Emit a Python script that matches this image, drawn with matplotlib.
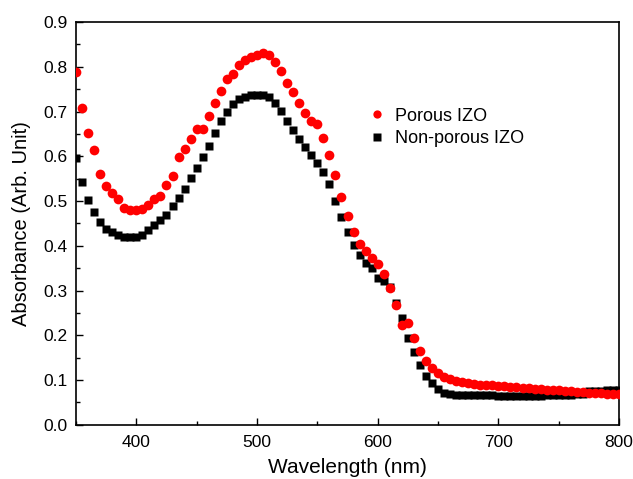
import numpy as np
import matplotlib
matplotlib.use("Agg")
import matplotlib.pyplot as plt
from matplotlib.ticker import MultipleLocator, FormatStrFormatter

# wavelength grid, 5 nm steps
wavelength = np.arange(350, 801, 5)

porous = [
    0.789, 0.709, 0.651, 0.613, 0.560, 0.533, 0.518, 0.504, 0.485, 0.480,
    0.480, 0.482, 0.491, 0.504, 0.511, 0.537, 0.555, 0.598, 0.616, 0.638,
    0.660, 0.662, 0.691, 0.718, 0.747, 0.773, 0.784, 0.804, 0.815, 0.822,
    0.826, 0.830, 0.826, 0.811, 0.791, 0.764, 0.744, 0.720, 0.696, 0.678,
    0.673, 0.642, 0.602, 0.558, 0.509, 0.467, 0.431, 0.404, 0.389, 0.373,
    0.360, 0.336, 0.306, 0.267, 0.224, 0.228, 0.193, 0.164, 0.142, 0.126,
    0.115, 0.108, 0.103, 0.099, 0.096, 0.094, 0.092, 0.090, 0.089, 0.088,
    0.087, 0.086, 0.085, 0.084, 0.083, 0.082, 0.081, 0.080, 0.079, 0.078,
    0.077, 0.076, 0.075, 0.074, 0.073, 0.072, 0.071, 0.071, 0.070, 0.070,
    0.069,
]
non_porous = [
    0.596, 0.542, 0.502, 0.476, 0.453, 0.437, 0.432, 0.425, 0.420, 0.420,
    0.420, 0.425, 0.435, 0.447, 0.458, 0.470, 0.489, 0.507, 0.527, 0.551,
    0.574, 0.598, 0.624, 0.651, 0.678, 0.700, 0.716, 0.729, 0.733, 0.738,
    0.738, 0.738, 0.733, 0.718, 0.702, 0.680, 0.658, 0.638, 0.620, 0.604,
    0.584, 0.564, 0.538, 0.500, 0.465, 0.431, 0.402, 0.380, 0.362, 0.351,
    0.329, 0.322, 0.307, 0.273, 0.238, 0.193, 0.162, 0.133, 0.109, 0.093,
    0.080, 0.072, 0.068, 0.067, 0.066, 0.066, 0.066, 0.066, 0.066, 0.066,
    0.065, 0.065, 0.065, 0.065, 0.065, 0.065, 0.065, 0.065, 0.066, 0.066,
    0.066, 0.066, 0.067, 0.068, 0.070, 0.075, 0.076, 0.076, 0.077, 0.077,
    0.077,
]

plt.rcParams["font.family"] = ["Liberation Sans", "DejaVu Sans"]

fig = plt.figure(figsize=(6.33, 4.79), dpi=100)
ax = fig.add_axes([0.120, 0.113, 0.858, 0.841])

ax.plot(wavelength, non_porous, "s", color="black", ms=6, mec="none",
        label="Non-porous IZO", zorder=2)
ax.plot(wavelength, porous, "o", color="#ff0000", ms=7, mec="none",
        label="Porous IZO", zorder=3)

ax.set_xlim(350, 800)
ax.set_ylim(0, 0.9)
ax.xaxis.set_major_locator(MultipleLocator(100))
ax.xaxis.set_minor_locator(MultipleLocator(50))
ax.yaxis.set_major_locator(MultipleLocator(0.1))
ax.yaxis.set_minor_locator(MultipleLocator(0.05))
ax.yaxis.set_major_formatter(FormatStrFormatter("%.1f"))
ax.tick_params(which="both", direction="in", top=False, right=False,
               labelsize=12.5, width=1)
ax.tick_params(which="major", length=5)
ax.tick_params(which="minor", length=3)
ax.tick_params(axis="x", which="major", pad=7)
ax.tick_params(axis="y", which="major", pad=6)
for s in ax.spines.values():
    s.set_linewidth(1.2)

ax.set_xlabel("Wavelength (nm)", fontsize=15, labelpad=6)
ax.set_ylabel("Absorbance (Arb. Unit)", fontsize=14.5, labelpad=9)

h, l = ax.get_legend_handles_labels()
ax.legend(h[::-1], l[::-1], frameon=False, fontsize=13,
          loc="upper left", bbox_to_anchor=(0.52, 0.805),
          handletextpad=0.35, borderaxespad=0, labelspacing=0.3,
          handlelength=1.3, markerscale=0.85)

fig.savefig("out.png", dpi=100)
